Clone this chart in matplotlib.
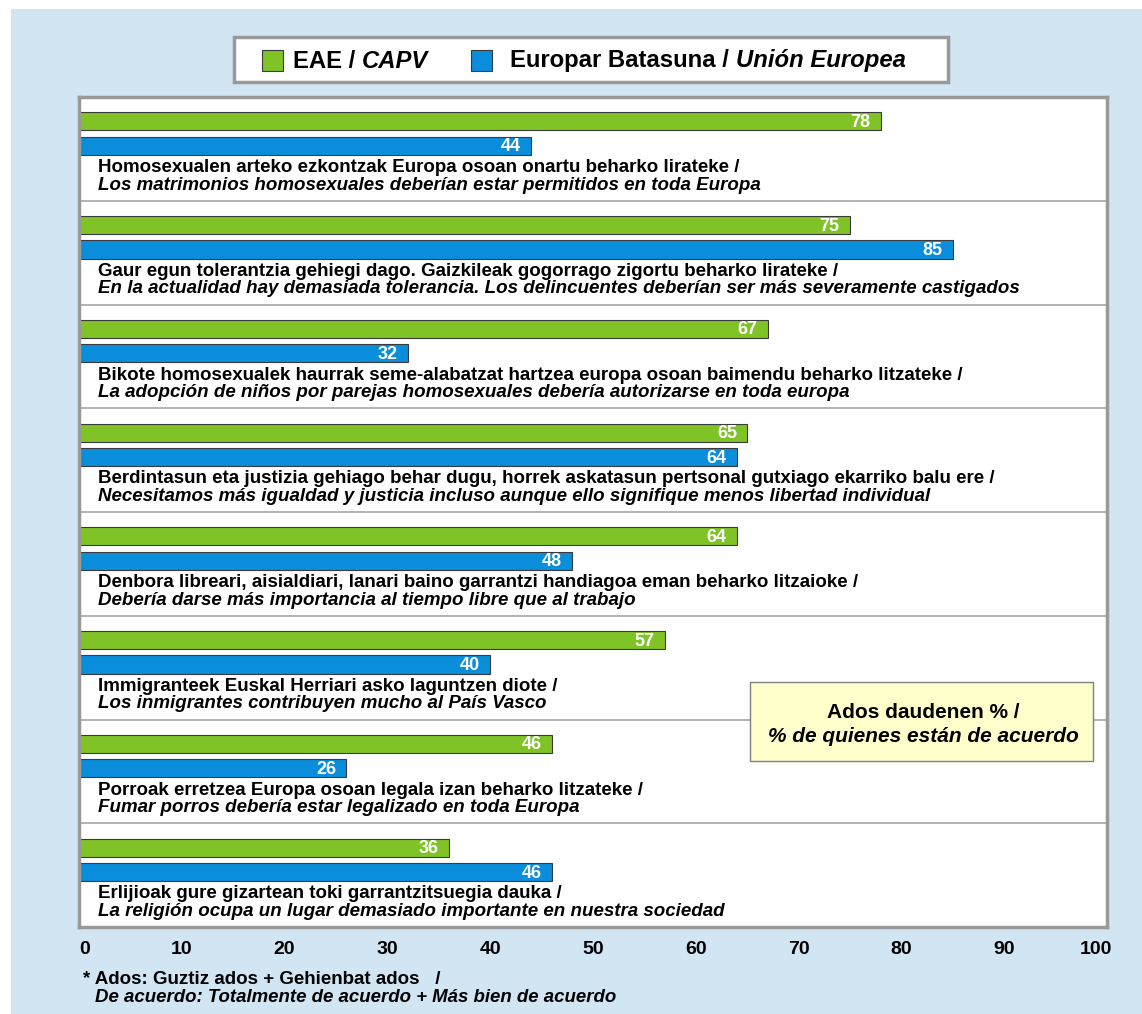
import matplotlib.pyplot as plt
from matplotlib.patches import Rectangle
from matplotlib.text import Annotation
from matplotlib.transforms import ScaledTranslation

plt.rcParams['font.family'] = ['Liberation Sans', 'DejaVu Sans']

# datos
eae = [78, 75, 67, 65, 64, 57, 46, 36]
ue = [44, 85, 32, 64, 48, 40, 26, 46]
eu_lines = [
    'Homosexualen arteko ezkontzak Europa osoan onartu beharko lirateke /',
    'Gaur egun tolerantzia gehiegi dago. Gaizkileak gogorrago zigortu beharko lirateke /',
    'Bikote homosexualek haurrak seme-alabatzat hartzea europa osoan baimendu beharko litzateke /',
    'Berdintasun eta justizia gehiago behar dugu, horrek askatasun pertsonal gutxiago ekarriko balu ere /',
    'Denbora libreari, aisialdiari, lanari baino garrantzi handiagoa eman beharko litzaioke /',
    'Immigranteek Euskal Herriari asko laguntzen diote /',
    'Porroak erretzea Europa osoan legala izan beharko litzateke /',
    'Erlijioak gure gizartean toki garrantzitsuegia dauka /',
]
es_lines = [
    'Los matrimonios homosexuales deberían estar permitidos en toda Europa',
    'En la actualidad hay demasiada tolerancia. Los delincuentes deberían ser más severamente castigados',
    'La adopción de niños por parejas homosexuales debería autorizarse en toda europa',
    'Necesitamos más igualdad y justicia incluso aunque ello signifique menos libertad individual',
    'Debería darse más importancia al tiempo libre que al trabajo',
    'Los inmigrantes contribuyen mucho al País Vasco',
    'Fumar porros debería estar legalizado en toda Europa',
    'La religión ocupa un lugar demasiado importante en nuestra sociedad',
]
ticks = list(range(0, 101, 10))

green = '#80c327'
blue = '#0a8edc'
W, H = 1142, 1014

fig = plt.figure(figsize=(W / 100, H / 100), dpi=100)
fig.patch.set_facecolor('white')
# fondo azul claro
fig.patches.append(Rectangle((11 / W, 0), 1, (H - 9) / H, transform=fig.transFigure,
                             facecolor='#d1e5f3', edgecolor='none', zorder=-10))

ax = fig.add_axes([79 / W, (H - 927) / H, 1028 / W, 830 / H])
ax.set_facecolor('white')
ax.set_xlim(0, 100)
ax.set_ylim(8, 0)
for s in ax.spines.values():
    s.set_color('#999999')
    s.set_linewidth(2.5)
ax.set_yticks([])
ax.set_xticks(ticks)
ax.set_xticklabels([str(t) for t in ticks], fontsize=14, fontweight='bold')
ax.tick_params(axis='x', length=0, pad=10)
# el 0 y el 100 van un poco hacia dentro
labs = ax.get_xticklabels()
labs[0].set_transform(labs[0].get_transform() + ScaledTranslation(6 / 100, 0, fig.dpi_scale_trans))
labs[-1].set_transform(labs[-1].get_transform() + ScaledTranslation(-11 / 100, 0, fig.dpi_scale_trans))

bh = 0.175
for i in range(len(eae)):
    y0 = i
    ax.barh(y0 + 0.235, eae[i], height=bh, color=green, edgecolor='#3a3a3a', linewidth=0.8)
    ax.barh(y0 + 0.47, ue[i], height=bh, color=blue, edgecolor='#3a3a3a', linewidth=0.8)
    ax.text(eae[i] - 1.0, y0 + 0.245, str(eae[i]), color='white', fontsize=13,
            fontweight='bold', ha='right', va='center')
    ax.text(ue[i] - 1.0, y0 + 0.48, str(ue[i]), color='white', fontsize=13,
            fontweight='bold', ha='right', va='center')
    ax.text(1.8, y0 + 0.68, eu_lines[i], fontsize=13.5, fontweight='bold', va='center')
    ax.text(1.8, y0 + 0.85, es_lines[i], fontsize=13.5, fontweight='bold',
            style='italic', va='center')
    if i > 0:
        ax.axhline(y0, color='#a6a6a6', linewidth=1.2)

# caja amarilla
fig.patches.append(Rectangle((750 / W, (H - 761) / H), 343 / W, 79 / H, transform=fig.transFigure,
                             facecolor='#ffffcc', edgecolor='#808080', linewidth=1, zorder=5))
fig.text(923 / W, (H - 713) / H, 'Ados daudenen % /', fontsize=15, fontweight='bold',
         ha='center', va='center', zorder=6)
fig.text(923 / W, (H - 736) / H, '% de quienes están de acuerdo', fontsize=15,
         fontweight='bold', style='italic', ha='center', va='center', zorder=6)

# leyenda
fig.patches.append(Rectangle((234 / W, (H - 82) / H), 714 / W, 45 / H, transform=fig.transFigure,
                             facecolor='white', edgecolor='#999999', linewidth=2.5, zorder=5))
fig.patches.append(Rectangle((262 / W, (H - 71) / H), 21 / W, 21 / H, transform=fig.transFigure,
                             facecolor=green, edgecolor='#3a3a3a', linewidth=0.8, zorder=6))
fig.patches.append(Rectangle((471 / W, (H - 71) / H), 21 / W, 21 / H, transform=fig.transFigure,
                             facecolor=blue, edgecolor='#3a3a3a', linewidth=0.8, zorder=6))
t1 = fig.text(293 / W, (H - 61) / H, 'EAE / ', fontsize=17.2, fontweight='bold',
              va='center', zorder=6)
fig.add_artist(Annotation('CAPV', xy=(1, 0), xycoords=t1, va='bottom', fontsize=17.2,
                          fontweight='bold', style='italic', zorder=6))
t2 = fig.text(510 / W, (H - 61) / H, 'Europar Batasuna / ', fontsize=17.2, fontweight='bold',
              va='center', zorder=6)
fig.add_artist(Annotation('Unión Europea', xy=(1, 0), xycoords=t2, va='bottom', fontsize=17.2,
                          fontweight='bold', style='italic', zorder=6))

# nota al pie
fig.text(83 / W, (H - 979) / H, '* Ados: Guztiz ados + Gehienbat ados   /', fontsize=13.5,
         fontweight='bold', va='center')
fig.text(95 / W, (H - 997) / H, 'De acuerdo: Totalmente de acuerdo + Más bien de acuerdo',
         fontsize=13.4, fontweight='bold', style='italic', va='center')

fig.savefig('out.png', dpi=100)
